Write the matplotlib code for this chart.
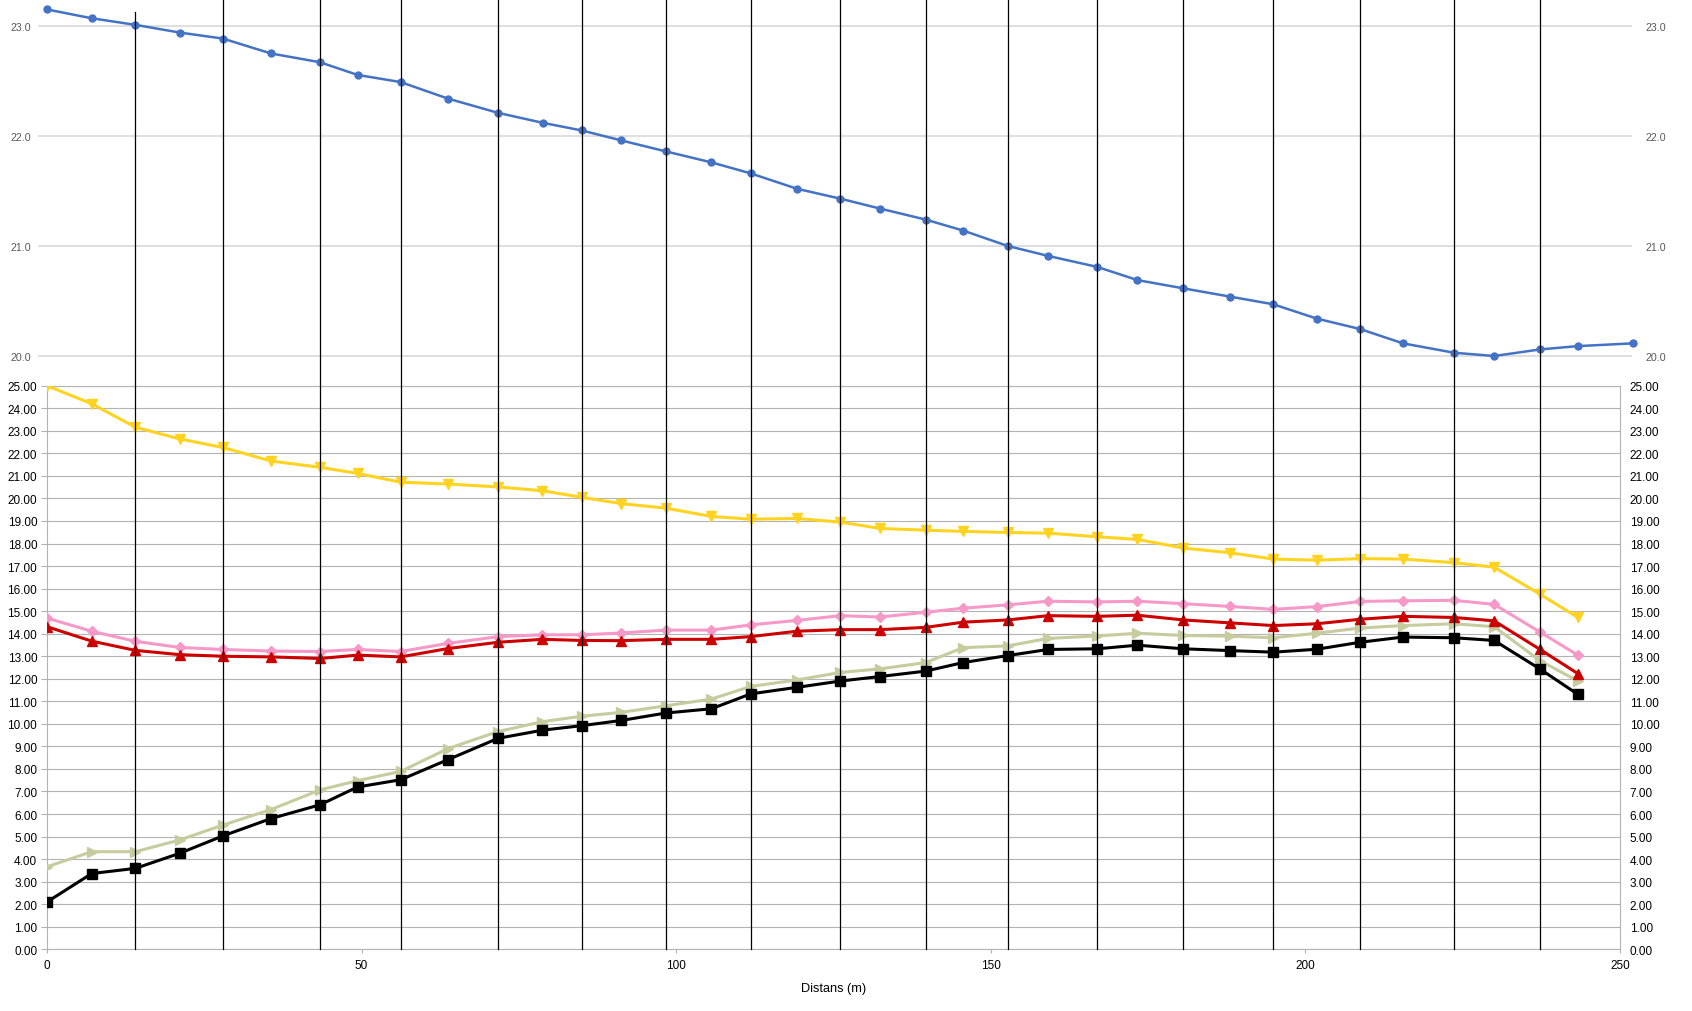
import matplotlib.pyplot as plt
import matplotlib.transforms as mtransforms

plt.rcParams['font.family'] = ['Liberation Sans', 'DejaVu Sans']

# distance (m) of each measuring point
dist = [0, 7.1, 14.05, 21.1, 27.96, 35.6, 43.4, 49.35, 56.2, 63.7, 71.7, 78.75,
        85.0, 91.24, 98.33, 105.6, 111.84, 119.2, 126.1, 132.4, 139.65, 145.6,
        152.7, 159.1, 166.9, 173.3, 180.6, 188.0, 194.9, 201.8, 208.7, 215.5,
        223.6, 230.0, 237.3, 243.3]
# the upper series has one extra point
dist_top = dist + [252.0]

top_series = [23.15, 23.07, 23.01, 22.94, 22.885, 22.75, 22.67, 22.555, 22.49, 22.34,
              22.21, 22.12, 22.05, 21.96, 21.86, 21.76, 21.66, 21.52, 21.43, 21.34,
              21.24, 21.14, 21.0, 20.91, 20.81, 20.69, 20.615, 20.54, 20.47, 20.34,
              20.245, 20.115, 20.03, 20.0, 20.06, 20.09, 20.115]

yellow = [25.0, 24.20, 23.16, 22.64, 22.26, 21.66, 21.38, 21.11, 20.72, 20.64, 20.51, 20.34, 20.05,
          19.77, 19.57, 19.20, 19.08, 19.11, 18.95, 18.67, 18.59, 18.54, 18.49, 18.46, 18.30, 18.18,
          17.80, 17.59, 17.31, 17.26, 17.33, 17.31, 17.15, 16.95, 15.75, 14.72]
pink = [14.69, 14.11, 13.66, 13.39, 13.30, 13.23, 13.21, 13.30, 13.21, 13.57, 13.87, 13.95, 13.95,
        14.03, 14.16, 14.16, 14.39, 14.59, 14.80, 14.74, 14.95, 15.13, 15.28, 15.44, 15.41, 15.44,
        15.33, 15.21, 15.08, 15.20, 15.43, 15.46, 15.48, 15.30, 14.07, 13.05]
red = [14.31, 13.67, 13.26, 13.07, 13.00, 12.97, 12.90, 13.05, 12.97, 13.34, 13.62, 13.75, 13.70,
       13.69, 13.75, 13.75, 13.87, 14.11, 14.18, 14.18, 14.28, 14.51, 14.61, 14.80, 14.77, 14.82,
       14.61, 14.48, 14.36, 14.44, 14.64, 14.77, 14.72, 14.57, 13.30, 12.23]
khaki = [3.66, 4.33, 4.33, 4.85, 5.51, 6.20, 7.07, 7.48, 7.89, 8.90, 9.66, 10.10, 10.34,
         10.51, 10.80, 11.10, 11.66, 11.95, 12.28, 12.44, 12.72, 13.38, 13.46, 13.79, 13.90, 14.02,
         13.92, 13.89, 13.82, 14.02, 14.25, 14.36, 14.44, 14.31, 12.80, 11.90]
black = [2.10, 3.36, 3.59, 4.26, 5.03, 5.80, 6.41, 7.20, 7.52, 8.41, 9.36, 9.72, 9.92,
         10.15, 10.48, 10.67, 11.33, 11.62, 11.90, 12.10, 12.34, 12.72, 13.03, 13.30, 13.33, 13.49,
         13.33, 13.25, 13.18, 13.31, 13.62, 13.85, 13.82, 13.70, 12.43, 11.31]

# vertical marker lines at every second point
marker_dist = dist[2::2]

fig = plt.figure(figsize=(16.92, 10.12), dpi=100)
ax = fig.add_axes([0.02778, 0.06097, 0.92967, 0.5569])
ax_top = fig.add_axes([0.02246, 0.6245, 0.94208, 0.3755])
# lower axes drawn last so the vertical lines go over the upper chart
ax.set_zorder(2)
ax_top.set_zorder(1)

# --- upper chart
ax_top.plot(dist_top, top_series, color='#4472c4', marker='o', ms=5, lw=1.8, clip_on=False)
ax_top.set_xlim(-1.43, 251.9)
ax_top.set_ylim(19.791, 23.245)
ax_top.set_xticks([])
ax_top.set_yticks([20, 21, 22, 23])
ax_top.yaxis.set_major_formatter('{x:.1f}')
ax_top.grid(axis='y', color='#d9d9d9', lw=1.2)
ax_top.tick_params(axis='y', length=0, labelsize=7.7, labelcolor='#595959', pad=5)
for s in ax_top.spines.values():
    s.set_visible(False)
sec = ax_top.secondary_yaxis('right')
sec.set_yticks([20, 21, 22, 23])
sec.yaxis.set_major_formatter('{x:.1f}')
sec.tick_params(axis='y', length=0, labelsize=7.7, labelcolor='#595959', pad=9.4)
sec.spines['right'].set_visible(False)

# --- lower chart
ax.plot(dist, khaki, color='#c8cb9e', marker='>', ms=7, lw=2.2, zorder=3)
ax.plot(dist, pink, color='#f799c8', marker='D', ms=5, lw=2.2, zorder=3)
ax.plot(dist, red, color='#cc0000', marker='^', ms=7, lw=2.2, zorder=3)
ax.plot(dist, yellow, color='#ffd320', marker='v', ms=7, lw=2.2, zorder=3)
ax.plot(dist, black, color='black', marker='s', ms=6.5, lw=2.2, zorder=4)

ax.set_xlim(0, 250)
ax.set_ylim(0, 25)
ax.set_yticks(range(0, 26))
ax.yaxis.set_major_formatter('{x:.2f}')
ax.set_xticks(range(0, 251, 50))
ax.grid(axis='y', color='#b3b3b3', lw=0.8)
ax.set_axisbelow(True)
for s in ax.spines.values():
    s.set_color('#b3b3b3')
ax.tick_params(axis='y', length=4.5, color='#b3b3b3', labelsize=8.5, pad=2.5,
               right=False, labelright=True)
ax.tick_params(axis='x', length=3, color='#b3b3b3', labelsize=8.5, pad=4)
ax.set_xlabel('Distans (m)', fontsize=9.2, labelpad=8)

# vertical lines running from the lower x axis up to the top of the figure
trans = mtransforms.blended_transform_factory(ax.transData, fig.transFigure)
y_base = ax.get_position().y0
for i, d in enumerate(marker_dist):
    top = 1 - 13 / 1012 if i == 0 else 1.0
    ax.plot([d, d], [y_base, top], transform=trans, color='black', lw=0.9,
            clip_on=False, zorder=10)
ax.set_xlim(0, 250)
ax.set_ylim(0, 25)

plt.savefig('out.png', dpi=100)
